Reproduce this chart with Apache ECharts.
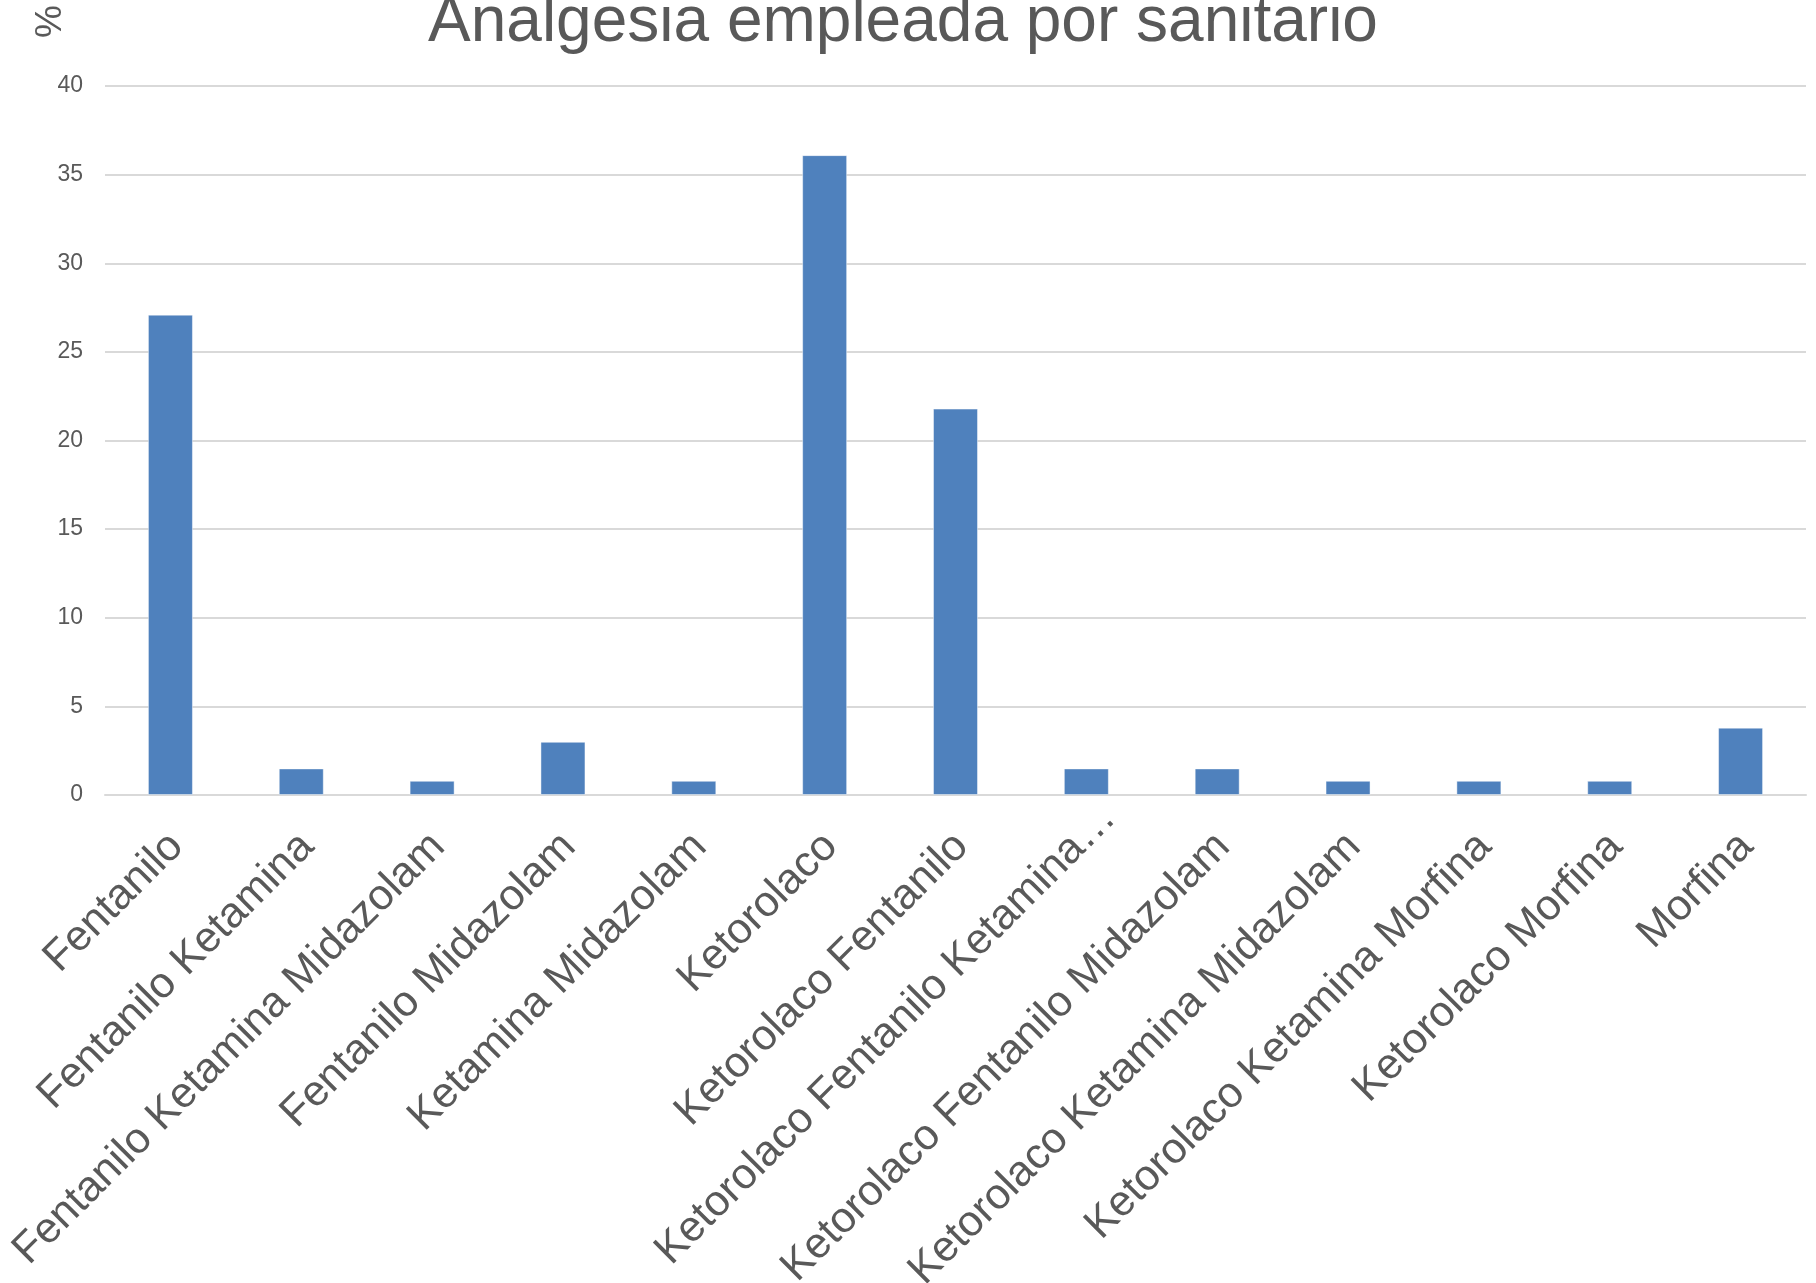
<!DOCTYPE html>
<html>
<head>
<meta charset="utf-8">
<style>
  html, body { margin: 0; padding: 0; background: #ffffff; }
  #chart { width: 1816px; height: 1283px; }
</style>
<script src="https://cdn.jsdelivr.net/npm/echarts@6/dist/echarts.min.js"></script>
</head>
<body>
<div id="chart"></div>
<script>
// Analgesic combinations used by field staff (% of cases)
const categories = [
  'Fentanilo',
  'Fentanilo Ketamina',
  'Fentanilo Ketamina Midazolam',
  'Fentanilo Midazolam',
  'Ketamina Midazolam',
  'Ketorolaco',
  'Ketorolaco Fentanilo',
  'Ketorolaco Fentanilo Ketamina…',
  'Ketorolaco Fentanilo Midazolam',
  'Ketorolaco Ketamina Midazolam',
  'Ketorolaco Ketamina Morfina',
  'Ketorolaco Morfina',
  'Morfina'
];
const percentages = [27.1, 1.5, 0.8, 3.0, 0.8, 36.1, 21.8, 1.5, 1.5, 0.8, 0.8, 0.8, 3.8];
const yTicks = { min: 0, max: 40, interval: 5 };

const textColor = '#595959';
const gridColor = '#D9D9D9';
const barColor = '#4F81BD';
const fontFamily = '"Liberation Sans", Arial, Helvetica, sans-serif';

// A truncated name keeps its words aligned with the others and lets the ellipsis hang past the tick.
const categoryItems = categories.map(function (name) {
  if (name.endsWith('…')) {
    return { value: name, textStyle: { padding: [0, -32, 0, 0] } };
  }
  return name;
});

const chart = echarts.init(document.getElementById('chart'), null, { renderer: 'canvas' });

chart.setOption({
  backgroundColor: '#ffffff',
  animation: false,
  title: {
    text: 'Analgesia empleada por sanitario',
    left: 428,
    top: -9,
    padding: 0,
    textStyle: {
      color: textColor,
      fontFamily: fontFamily,
      fontSize: 64,
      fontWeight: 'normal'
    }
  },
  graphic: [{
    type: 'text',
    left: 32,
    top: 5,
    rotation: Math.PI / 2,
    style: {
      text: '%',
      fill: textColor,
      font: '37px ' + fontFamily
    }
  }],
  grid: {
    left: 105,
    right: 10,
    top: 86,
    bottom: 488,
    containLabel: false,
    outerBoundsMode: 'none'
  },
  xAxis: {
    type: 'category',
    data: categoryItems,
    axisTick: { show: false },
    axisLine: { show: true, lineStyle: { color: gridColor, width: 2 } },
    axisLabel: {
      interval: 0,
      rotate: 45,
      margin: 39,
      verticalAlign: 'top',
      lineHeight: 17,
      color: textColor,
      fontFamily: fontFamily,
      fontSize: 43
    }
  },
  yAxis: {
    type: 'value',
    min: yTicks.min,
    max: yTicks.max,
    interval: yTicks.interval,
    axisLine: { show: false },
    axisTick: { show: false },
    splitLine: { show: true, lineStyle: { color: gridColor, width: 2 } },
    axisLabel: {
      margin: 22,
      color: textColor,
      fontFamily: fontFamily,
      fontSize: 23
    }
  },
  series: [{
    type: 'bar',
    data: percentages,
    barWidth: 45,
    itemStyle: {
      color: barColor,
      borderColor: 'rgba(255,255,255,0.45)',
      borderWidth: 1
    }
  }]
});
</script>
</body>
</html>
